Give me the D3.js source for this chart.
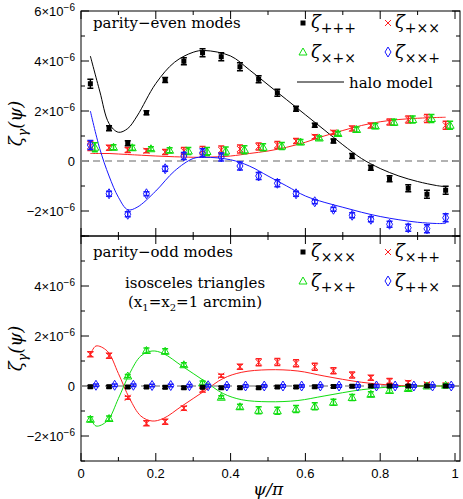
<!DOCTYPE html>
<html><head><meta charset="utf-8">
<script src="https://cdn.jsdelivr.net/npm/d3@7"></script>
<style>body{margin:0;background:#fff}text{font-family:"DejaVu Serif",serif}</style>
</head><body><svg id="c" width="463" height="499"></svg>
<script>
// psi/pi bin centres
var psi = [0.025,0.075,0.125,0.175,0.225,0.275,0.325,0.375,0.425,0.475,0.525,0.575,0.625,0.675,0.725,0.775,0.825,0.875,0.925,0.975];
// parity-even (units 1e-6)
var zPPP = [3.09,1.31,0.71,1.93,3.24,3.99,4.33,4.17,3.77,3.27,2.73,2.09,1.43,0.80,0.20,-0.27,-0.71,-1.09,-1.33,-1.17];
var zPXX = [0.60,0.53,0.44,0.41,0.36,0.40,0.42,0.44,0.48,0.58,0.64,0.80,0.97,1.14,1.30,1.42,1.56,1.66,1.70,1.43];
var zXPX = [0.55,0.55,0.53,0.49,0.43,0.40,0.38,0.40,0.45,0.55,0.60,0.76,0.92,1.10,1.26,1.40,1.55,1.66,1.70,1.43];
var zXXP = [0.64,-1.31,-2.13,-1.31,-0.31,0.20,0.33,0.16,-0.20,-0.60,-0.89,-1.31,-1.63,-1.93,-2.17,-2.33,-2.53,-2.67,-2.71,-2.27];
var errEven = [0.18,0.1,0.1,0.08,0.1,0.14,0.16,0.16,0.16,0.14,0.14,0.1,0.08,0.08,0.1,0.1,0.12,0.14,0.16,0.16];
// parity-odd
var zXXX = [-0.03,-0.03,-0.04,-0.04,-0.05,-0.07,-0.05,-0.07,-0.07,-0.07,-0.04,-0.04,-0.03,-0.02,-0.01,0,0,0,0,0];
var zXPP = [1.27,1.21,-0.47,-1.49,-1.43,-0.89,-0.16,0.41,0.77,0.95,0.96,0.91,0.77,0.61,0.44,0.33,0.20,0.13,0.07,0.04];
var zPXP = [-1.33,-1.30,0.40,1.42,1.39,0.85,0.12,-0.45,-0.83,-0.97,-0.99,-0.92,-0.81,-0.65,-0.46,-0.33,-0.18,-0.10,0.0,0.03];
var zPPX = [0.03,0.03,0.03,0.02,0.02,0.01,0.01,0,0,0,0,0,0,0,0,0,0,0,0,0];
var errOdd = [0.1,0.1,0.06,0.1,0.1,0.08,0.08,0.06,0.1,0.14,0.14,0.14,0.14,0.12,0.12,0.1,0.1,0.08,0.06,0.06];
// halo-model curves
var mEvenX = [0.025,0.05,0.075,0.1,0.125,0.15,0.2,0.25,0.3,0.33,0.4,0.45,0.5,0.55,0.6,0.65,0.7,0.75,0.8,0.85,0.9,0.95,0.975];
var mPPP = [4.2,2.8,1.5,1.15,1.3,1.8,3.1,3.95,4.35,4.42,4.2,3.65,3.05,2.45,1.85,1.25,0.65,0.1,-0.3,-0.6,-0.82,-0.98,-1.03];
var mPXX = [0.3,0.3,0.3,0.28,0.26,0.24,0.2,0.17,0.15,0.15,0.2,0.3,0.4,0.55,0.75,1.0,1.22,1.42,1.57,1.66,1.71,1.74,1.75];
var mXXP = [2.0,0.5,-0.6,-1.45,-1.95,-1.85,-1.2,-0.4,0.1,0.15,0.05,-0.2,-0.6,-1.0,-1.4,-1.65,-1.85,-2.05,-2.22,-2.35,-2.45,-2.5,-2.5];
var mOddX = [0.025,0.04,0.07,0.1,0.13,0.16,0.19,0.22,0.27,0.33,0.38,0.43,0.5,0.58,0.65,0.75,0.85,0.975];
var mXPP = [1.25,1.6,1.4,0.5,-0.5,-1.2,-1.4,-1.3,-0.8,-0.2,0.3,0.55,0.65,0.6,0.4,0.15,0.02,0];
var mPXP = [-1.25,-1.6,-1.4,-0.5,0.5,1.2,1.4,1.3,0.8,0.2,-0.3,-0.55,-0.63,-0.58,-0.4,-0.15,-0.02,0];
var xTicks = [0,0.2,0.4,0.6,0.8,1];
var yTicks = [-2,0,2,4,6];

var svg = d3.select("#c");
var x = d3.scaleLinear().domain([0,1]).range([81,455]);
var xMax = 1.0134;
var panels = [{top:11,bot:236},{top:236,bot:461}];

function yLab(g, v){
  var t = g.append("text").attr("text-anchor","end").attr("font-size",13)
    .style("font-family","Liberation Sans,sans-serif");
  if(v===0){t.text("0");return t;}
  t.append("tspan").text((v<0?"\u2212":"")+Math.abs(v)+"\u00d710");
  t.append("tspan").attr("dy",-5).attr("font-size",10).text("\u22126");
  return t;
}

function frame(p){
  var y = d3.scaleLinear().domain([-3,6]).range([p.bot,p.top]);
  var g = svg.append("g");
  g.append("rect").attr("x",x(0)).attr("y",p.top).attr("width",x(xMax)-x(0)).attr("height",p.bot-p.top)
    .attr("fill","none").attr("stroke","#000");
  d3.range(-3,7).forEach(function(v){
    var L = v%2===0?8:4;
    g.append("line").attr("x1",x(0)).attr("x2",x(0)+L).attr("y1",y(v)).attr("y2",y(v)).attr("stroke","#000");
    g.append("line").attr("x1",x(xMax)).attr("x2",x(xMax)-L).attr("y1",y(v)).attr("y2",y(v)).attr("stroke","#000");
  });
  yTicks.forEach(function(v){
    if(p.top>100 && v===6) return;
    yLab(g,v).attr("x",x(0)-6).attr("y",y(v)+5);
  });
  d3.range(0,11).forEach(function(i){
    var v=i/10, L = i%2===0?8:4;
    g.append("line").attr("x1",x(v)).attr("x2",x(v)).attr("y1",p.bot).attr("y2",p.bot-L).attr("stroke","#000");
    g.append("line").attr("x1",x(v)).attr("x2",x(v)).attr("y1",p.top).attr("y2",p.top+L).attr("stroke","#000");
  });
  g.append("line").attr("x1",x(0)).attr("x2",x(xMax)).attr("y1",y(0)).attr("y2",y(0))
    .attr("stroke","#999").attr("stroke-width",1.5).attr("stroke-dasharray","7,5");
  var yl = g.append("text").attr("transform","translate(22,"+((p.top+p.bot)/2)+") rotate(-90)")
    .attr("text-anchor","middle").attr("font-size",18).style("font-style","italic");
  yl.append("tspan").text("\u03b6");
  yl.append("tspan").attr("dy",5).attr("font-size",13).text("\u03b3");
  yl.append("tspan").attr("dy",-5).text("(\u03c8)");
  return y;
}

function curve(y, xs, ys, col){
  svg.append("path").datum(d3.zip(xs,ys)).attr("fill","none").attr("stroke",col).attr("stroke-width",1)
    .attr("d",d3.line().curve(d3.curveCatmullRom).x(function(d){return x(d[0]);}).y(function(d){return y(d[1]);}));
}

function symbol(g, kind, cx, cy, col){
  if(kind==="sq") g.append("rect").attr("x",cx-2.5).attr("y",cy-2.5).attr("width",5).attr("height",5).attr("fill",col);
  else if(kind==="x") g.append("path").attr("d","M"+(cx-3)+","+(cy-3)+"L"+(cx+3)+","+(cy+3)+"M"+(cx-3)+","+(cy+3)+"L"+(cx+3)+","+(cy-3)).attr("stroke",col);
  else if(kind==="tri") g.append("path").attr("d","M"+cx+","+(cy-4)+"L"+(cx+4)+","+(cy+3)+"L"+(cx-4)+","+(cy+3)+"Z").attr("fill","none").attr("stroke",col);
  else g.append("path").attr("d","M"+cx+","+(cy-5)+"L"+(cx+3)+","+cy+"L"+cx+","+(cy+5)+"L"+(cx-3)+","+cy+"Z").attr("fill","none").attr("stroke",col);
}

function points(y, vals, errs, kind, col, dx){
  var g = svg.append("g");
  vals.forEach(function(v,i){
    var cx = x(psi[i]+dx), e = errs[i];
    g.append("path").attr("d","M"+cx+","+y(v-e)+"V"+y(v+e)+"M"+(cx-3)+","+y(v-e)+"h6M"+(cx-3)+","+y(v+e)+"h6")
      .attr("stroke",col).attr("stroke-width",1.5);
    symbol(g,kind,cx,y(v),col);
  });
}

function legLabel(lx, ly, sub){
  var t = svg.append("text").attr("x",lx).attr("y",ly).attr("font-size",18).style("font-style","italic");
  t.append("tspan").text("\u03b6");
  t.append("tspan").attr("dy",5).attr("font-size",14).style("font-style","normal").text(sub);
}

var RED="#ff2020", GRN="#10dd10", BLU="#1818ff";

// top panel
var y1 = frame(panels[0]);
curve(y1, mEvenX, mPPP, "#000");
curve(y1, mEvenX, mPXX, RED);
curve(y1, mEvenX, mXXP, BLU);
points(y1, zPXX, errEven, "x", RED, 0);
points(y1, zXPX, errEven, "tri", GRN, 0.012);
points(y1, zXXP, errEven, "dia", BLU, 0);
points(y1, zPPP, errEven, "sq", "#000", 0);
svg.append("text").attr("x",93).attr("y",28).attr("font-size",15).text("parity\u2212even modes");
symbol(svg,"sq",303,23,"#000"); legLabel(311,28,"+++");
symbol(svg,"x",388,23,RED); legLabel(395,28,"+\u00d7\u00d7");
symbol(svg,"tri",303,52,GRN); legLabel(311,58,"\u00d7+\u00d7");
symbol(svg,"dia",388,52,BLU); legLabel(395,58,"\u00d7\u00d7+");
svg.append("line").attr("x1",297).attr("x2",344).attr("y1",82).attr("y2",82).attr("stroke","#000");
svg.append("text").attr("x",349).attr("y",88).attr("font-size",15).text("halo model");

// bottom panel
var y2 = frame(panels[1]);
curve(y2, mOddX, mXPP, RED);
curve(y2, mOddX, mPXP, GRN);
points(y2, zXPP, errOdd, "x", RED, 0);
points(y2, zPXP, errOdd, "tri", GRN, 0);
points(y2, zPPX, errOdd.map(function(){return 0.05;}), "dia", BLU, 0.015);
points(y2, zXXX, errOdd.map(function(){return 0.05;}), "sq", "#000", 0);
svg.append("text").attr("x",93).attr("y",257).attr("font-size",15).text("parity\u2212odd modes");
symbol(svg,"sq",303,252,"#000"); legLabel(311,257,"\u00d7\u00d7\u00d7");
symbol(svg,"x",388,252,RED); legLabel(395,257,"\u00d7++");
symbol(svg,"tri",303,281,GRN); legLabel(311,287,"+\u00d7+");
symbol(svg,"dia",388,281,BLU); legLabel(395,287,"++\u00d7");
svg.append("text").attr("x",195).attr("y",288).attr("text-anchor","middle").attr("font-size",15).text("isosceles triangles");
var t2 = svg.append("text").attr("x",195).attr("y",307).attr("text-anchor","middle").attr("font-size",15);
t2.append("tspan").text("(x"); t2.append("tspan").attr("dy",4).attr("font-size",10).text("1");
t2.append("tspan").attr("dy",-4).text("=x"); t2.append("tspan").attr("dy",4).attr("font-size",10).text("2");
t2.append("tspan").attr("dy",-4).text("=1 arcmin)");

// x axis labels
xTicks.forEach(function(v){
  svg.append("text").attr("x",x(v)).attr("y",478).attr("text-anchor","middle").attr("font-size",13)
    .style("font-family","Liberation Sans,sans-serif").text(v);
});
svg.append("text").attr("x",x(0.5)).attr("y",495).attr("text-anchor","middle").attr("font-size",17)
  .style("font-style","italic").text("\u03c8/\u03c0");
</script></body></html>
